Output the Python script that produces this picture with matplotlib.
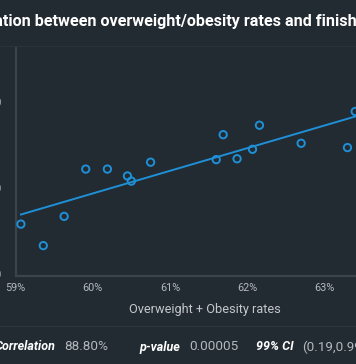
import numpy as np
import matplotlib
matplotlib.use("Agg")
import matplotlib.pyplot as plt

# ---- data ----
obesity_rate = [59.07, 59.36, 59.63, 59.91, 60.19, 60.45, 60.50, 60.75,
                61.60, 61.69, 61.87, 62.07, 62.16, 62.70, 63.30, 63.40]
finish_value = [15.8, 13.3, 16.7, 22.2, 22.2, 21.4, 20.8, 23.0,
                23.3, 26.2, 23.4, 24.5, 27.3, 25.2, 24.7, 28.9]
x_ticks = [59, 60, 61, 62, 63, 64]
x_tick_labels = ["59%", "60%", "61%", "62%", "63%", "64%"]
y_ticks = [10, 20, 30]
y_tick_labels = ["10", "20", "30"]
title = "Correlation between overweight/obesity rates and finishing times"
x_label = "Overweight + Obesity rates"
stats_labels = ["Correlation", "p-value", "99% CI"]
stats_values = ["88.80%", "0.00005", "(0.19,0.99)"]

BG = "#222a32"
BLUE = "#1f8fd6"
SPINE = "#3b444d"
TICK = "#b4b9be"
LABEL = "#c4c8cc"
FONT = "Roboto"

W, H = 356, 364
fig = plt.figure(figsize=(W / 100, H / 100), dpi=100, facecolor=BG)

def fx(px):
    return px / W

def fy(py):
    return 1 - py / H

ax_left, ax_right, ax_top, ax_bottom = 15.5, 15.5 + 5 * 77.2, 47, 276
ax = fig.add_axes([fx(ax_left), fy(ax_bottom), (ax_right - ax_left) / W, (ax_bottom - ax_top) / H])
ax.set_facecolor(BG)
ax.set_xlim(59, 64)
ax.set_ylim(10 - 2 / 8.6, 10 + 227 / 8.6)

for s in ["top", "right"]:
    ax.spines[s].set_visible(False)
for s in ["left", "bottom"]:
    ax.spines[s].set_color(SPINE)
    ax.spines[s].set_linewidth(1.6)

ax.set_xticks(x_ticks)
ax.set_xticklabels(x_tick_labels)
ax.set_yticks(y_ticks)
ax.set_yticklabels(y_tick_labels)
ax.tick_params(axis="both", length=0, colors=TICK, labelsize=7.8)
ax.tick_params(axis="x", pad=5)
ax.tick_params(axis="y", pad=10)
for lab in ax.get_xticklabels() + ax.get_yticklabels():
    lab.set_fontfamily(FONT)

# regression line
xs = np.array(obesity_rate)
ys = np.array(finish_value)
slope, intercept = np.polyfit(xs, ys, 1)
lx = np.array([xs.min(), 64])
ax.plot(lx, slope * lx + intercept, color=BLUE, lw=1.4, zorder=2)

ax.scatter(xs, ys, s=28, facecolors="none", edgecolors=BLUE, linewidths=1.4, zorder=3)

# title (cropped on both sides in the reference)
fig.text(fx(-50), fy(21.5), title, ha="left", va="center", color="white",
         fontsize=11.6, fontweight="bold", fontfamily=FONT)

# separators
fig.add_artist(plt.Line2D([0, 1], [fy(46), fy(46)], color="#2a333c", lw=0.8))
fig.add_artist(plt.Line2D([0, 1], [fy(326), fy(326)], color="#2d363f", lw=0.8))

fig.text(fx(204.7), fy(309), x_label, ha="center", va="center", color=LABEL,
         fontsize=9.2, fontfamily=FONT)

# stats row
sy = fy(347)
fig.text(fx(55), sy, stats_labels[0], ha="right", va="center", color="white",
         fontsize=9.0, fontweight="bold", style="italic", fontfamily=FONT)
fig.text(fx(64), sy, stats_values[0], ha="left", va="center", color=TICK,
         fontsize=9.7, fontfamily=FONT)
fig.text(fx(139), sy, stats_labels[1], ha="left", va="center", color="white",
         fontsize=9.0, fontweight="bold", style="italic", fontfamily=FONT)
fig.text(fx(189), sy, stats_values[1], ha="left", va="center", color=TICK,
         fontsize=9.7, fontfamily=FONT)
fig.text(fx(256), sy, stats_labels[2], ha="left", va="center", color="white",
         fontsize=9.0, fontweight="bold", style="italic", fontfamily=FONT)
fig.text(fx(302), sy, stats_values[2], ha="left", va="center", color=TICK,
         fontsize=9.7, fontfamily=FONT)

fig.savefig("out.png", dpi=100, facecolor=BG)
